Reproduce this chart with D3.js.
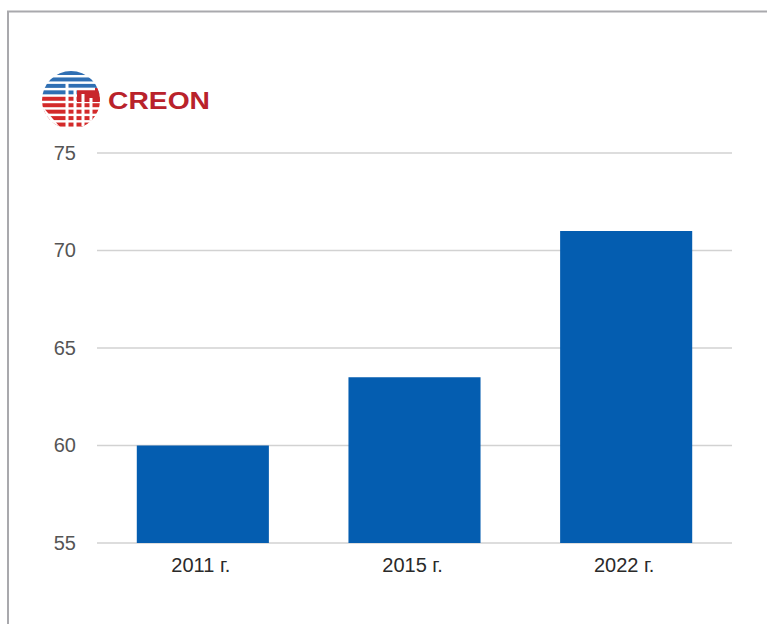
<!DOCTYPE html>
<html>
<head>
<meta charset="utf-8">
<script src="https://cdn.jsdelivr.net/npm/d3@7"></script>
<style>
  html, body { margin: 0; padding: 0; background: #fff; }
  svg { display: block; }
</style>
</head>
<body>
<svg id="chart" width="767" height="624"></svg>
<script>
// Data
const categories = ["2011 г.", "2015 г.", "2022 г."];
const values = [60.0, 63.5, 71.0];
const yTicks = [55, 60, 65, 70, 75];

const W = 767, H = 624;
const svg = d3.select("#chart");

// Outer frame (runs off the right and bottom edges)
svg.append("rect")
  .attr("x", 8).attr("y", 11.5)
  .attr("width", W + 20).attr("height", H + 20)
  .attr("fill", "#fff")
  .attr("stroke", "#a9a9ad").attr("stroke-width", 2);

// Plot area
const plotLeft = 97, plotRight = 732, plotTop = 153, plotBottom = 543;

const x = d3.scaleBand()
  .domain(categories)
  .range([plotLeft, plotRight])
  .paddingInner(0.376)
  .paddingOuter(0.188);

const y = d3.scaleLinear()
  .domain([55, 75])
  .range([plotBottom, plotTop]);

// Gridlines
svg.append("g")
  .selectAll("line")
  .data(yTicks)
  .join("line")
  .attr("x1", plotLeft).attr("x2", plotRight)
  .attr("y1", d => y(d)).attr("y2", d => y(d))
  .attr("stroke", "#d2d2d2").attr("stroke-width", 1.5);

// Y axis labels
const yAxis = d3.axisLeft(y).tickValues(yTicks).tickSize(0).tickPadding(0);
const gy = svg.append("g").attr("transform", `translate(76,0)`).call(yAxis);
gy.select(".domain").remove();
gy.selectAll("text")
  .attr("font-family", "Liberation Sans, Arial, sans-serif")
  .attr("font-size", 20)
  .attr("fill", "#555");

// Bars
svg.append("g")
  .selectAll("rect")
  .data(values)
  .join("rect")
  .attr("x", (d, i) => x(categories[i]))
  .attr("width", x.bandwidth())
  .attr("y", d => y(d))
  .attr("height", d => y(55) - y(d))
  .attr("fill", "#045db0");

// X axis labels
const xAxis = d3.axisBottom(x).tickSize(0).tickPadding(0);
const gx = svg.append("g").attr("transform", `translate(-2,${plotBottom + 15})`).call(xAxis);
gx.select(".domain").remove();
gx.selectAll("text")
  .attr("font-family", "Liberation Sans, Arial, sans-serif")
  .attr("font-size", 20)
  .attr("fill", "#2a2a2a");

// Logo: striped globe emblem and wordmark
const logo = svg.append("g");
const cx = 71, cy = 100, r = 29;
const defs = svg.append("defs");
defs.append("clipPath").attr("id", "globeClip")
  .append("circle").attr("cx", cx).attr("cy", cy).attr("r", r);
const globe = logo.append("g").attr("clip-path", "url(#globeClip)");
const stripeCount = 9;
for (let i = 0; i < stripeCount; i++) {
  const sy = cy - r + i * (2 * r / stripeCount);
  const blue = i < 4;
  globe.append("rect")
    .attr("x", cx - r).attr("y", sy)
    .attr("width", 2 * r).attr("height", (2 * r / stripeCount) * 0.62)
    .attr("fill", blue ? "#2f6fb3" : "#d32a2a");
}
// red block on the right side of the emblem
globe.append("rect")
  .attr("x", cx + 6).attr("y", cy - 12)
  .attr("width", 26).attr("height", 14)
  .attr("fill", "#c8262c");
// white vertical strokes through the globe
[[-4, -18, 30], [4, -10, 30], [12, -6, 26], [20, -2, 20]].forEach(([dx, y0, y1]) => {
  globe.append("line")
    .attr("x1", cx + dx).attr("x2", cx + dx)
    .attr("y1", cy + y0).attr("y2", cy + y1)
    .attr("stroke", "#fff").attr("stroke-width", 3);
});
globe.append("line")
  .attr("x1", cx - 4).attr("x2", cx + 24)
  .attr("y1", cy - 11).attr("y2", cy - 11)
  .attr("stroke", "#fff").attr("stroke-width", 2.5);
// mask the lower-left corner to give the crescent shape
globe.append("path")
  .attr("d", `M${cx - r},${cy + 6} L${cx - 6},${cy + r + 4} L${cx - r},${cy + r + 4}Z`)
  .attr("fill", "#fff");

logo.append("text")
  .attr("x", 108).attr("y", 109)
  .attr("font-family", "Liberation Sans, Arial, sans-serif")
  .attr("font-weight", "bold")
  .attr("font-size", 24.5)
  .attr("textLength", 102)
  .attr("lengthAdjust", "spacingAndGlyphs")
  .attr("fill", "#b9222b")
  .text("CREON");
</script>
</body>
</html>
